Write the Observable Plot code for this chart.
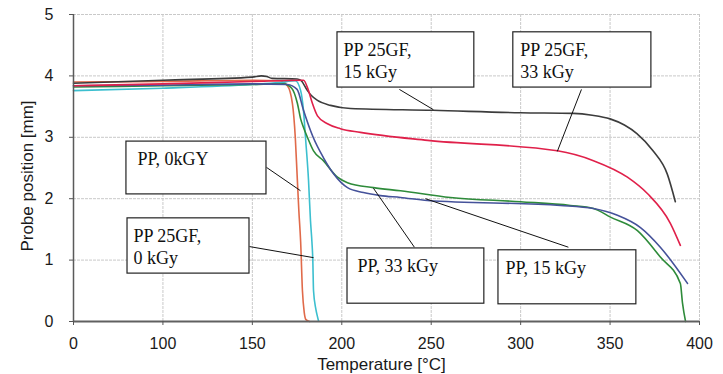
<!DOCTYPE html>
<html>
<head>
<meta charset="utf-8">
<script src="https://cdn.jsdelivr.net/npm/d3@7"></script>
<script src="https://cdn.jsdelivr.net/npm/@observablehq/plot@0.6"></script>
<style>
  html, body { margin: 0; padding: 0; background: #fff; }
  #chart { width: 723px; height: 374px; }
</style>
</head>
<body>
<div id="chart"></div>
<script>
// Tick positions (the reference axis labels the first gridline "0")
const xTicks = [50, 100, 150, 200, 250, 300, 350, 400];
const xTickLabels = ["0", "100", "150", "200", "250", "300", "350", "400"];
const yTicks = [0, 1, 2, 3, 4, 5];

// Series: [temperature, probe position]
const pp0 = [[50,3.90],[100,3.91],[150,3.93],[165,3.92],[169.6,3.84],[172.4,3.55],[174,3.0],[175,2.4],[176,1.8],[177,1.3],[178,0.5],[179,0.15],[180,0.03],[182,0]];
const pp25gf0 = [[50,3.76],[100,3.80],[150,3.86],[165,3.89],[174,3.92],[177,3.76],[178.6,3.43],[179.7,3.0],[181.4,2.3],[182.5,1.64],[183.3,1.3],[183.8,1.0],[184.2,0.5],[185.5,0.2],[186.4,0.08],[187,0.01]];
const pp33 = [[50,3.82],[100,3.84],[150,3.86],[167.4,3.87],[172,3.80],[175.2,3.55],[177,3.3],[178.6,3.16],[180.8,3.0],[184.2,2.78],[189.7,2.62],[197.6,2.35],[203.2,2.26],[217.7,2.18],[232.8,2.13],[260.7,2.02],[300,1.95],[327.8,1.89],[340.7,1.84],[350.2,1.70],[365.3,1.48],[378.1,1.05],[389.3,0.62],[390.5,0.3],[392.2,0]];
const pp15 = [[50,3.84],[100,3.85],[150,3.87],[169.6,3.86],[175,3.78],[178.6,3.44],[182.5,3.11],[184,3.0],[189.7,2.67],[195.3,2.41],[203.2,2.18],[212.1,2.10],[221.6,2.05],[232.8,2.02],[247.9,1.97],[322.2,1.89],[340.7,1.84],[354.1,1.73],[367,1.53],[378.1,1.21],[393.3,0.62]];
const pp25gf15 = [[50,3.88],[100,3.93],[150,3.98],[155,4.0],[158,3.99],[161,3.96],[175,3.95],[177,3.93],[180.8,3.76],[183,3.68],[186.4,3.60],[193.7,3.52],[204.9,3.47],[251,3.44],[300,3.40],[329.5,3.39],[340,3.36],[350,3.30],[358,3.20],[365,3.06],[374,2.78],[382,2.4],[386.5,1.95]];
const pp25gf33 = [[50,3.84],[100,3.87],[150,3.91],[178.6,3.93],[181.4,3.76],[183.6,3.55],[186.4,3.35],[192,3.22],[199.2,3.14],[210.4,3.08],[248,2.95],[320.5,2.78],[340.7,2.62],[359.7,2.35],[371,2.08],[383.7,1.6],[389.3,1.24]];

const seriesNames = ["PP, 0kGY", "PP 25GF, 0 kGy", "PP, 33 kGy", "PP, 15 kGy", "PP 25GF, 15 kGy", "PP 25GF, 33 kGy"];
const seriesData = [pp0, pp25gf0, pp33, pp15, pp25gf15, pp25gf33];
const seriesColors = ["#e06a4a", "#3cbfcf", "#2e8b3a", "#45529a", "#3c3c3c", "#e0204a"];

// Annotation labels (box corners and leader lines in data units)
const boxLabels = ["PP 25GF,\n15 kGy", "PP 25GF,\n33 kGy", "PP, 0kGY", "PP 25GF,\n0 kGy", "PP, 33 kGy", "PP, 15 kGy"];
const boxX1 = [197.6, 295.9, 79.6, 80.2, 203.2, 287.6];
const boxX2 = [274.1, 373.1, 157.9, 148.4, 279.7, 364.7];
const boxY1 = [3.81, 3.81, 2.07, 0.78, 0.29, 0.28];
const boxY2 = [4.71, 4.71, 2.93, 1.68, 1.19, 1.16];
const textX = [201.0, 299.8, 85.8, 83.5, 208.8, 291.5];
const leadX1 = [232.2, 334.0, 157.9, 148.4, 240.6, 326.7];
const leadY1 = [3.78, 3.78, 2.51, 1.22, 1.21, 1.21];
const leadX2 = [251.2, 320.5, 176.9, 184.2, 217.7, 246.8];
const leadY2 = [3.45, 2.77, 2.13, 1.04, 2.17, 2.00];

const rows = seriesData.flatMap((s, i) => s.map(([t, v]) => ({t, v, name: seriesNames[i]})));
const boxes = boxLabels.map((label, i) => ({label, x1: boxX1[i], x2: boxX2[i], y1: boxY1[i], y2: boxY2[i], tx: textX[i]}));
const leaders = leadX1.map((x1, i) => ({x1, y1: leadY1[i], x2: leadX2[i], y2: leadY2[i]}));

const chart = Plot.plot({
  width: 723,
  height: 374,
  marginLeft: 73,
  marginRight: 24,
  marginTop: 14,
  marginBottom: 53,
  style: {fontFamily: "Liberation Sans, Arial, sans-serif", fontSize: "16px", color: "#1a1a1a", background: "#fff"},
  x: {domain: [50, 400], label: null},
  y: {domain: [0, 5], label: null},
  color: {domain: seriesNames, range: seriesColors},
  marks: [
    Plot.gridX(xTicks, {stroke: "#c9c9c9", strokeOpacity: 1, strokeWidth: 1, strokeDasharray: "3,1"}),
    Plot.gridY([1, 2, 3, 4, 5], {stroke: "#c9c9c9", strokeOpacity: 1, strokeWidth: 1, strokeDasharray: "3,1"}),
    Plot.line(rows, {x: "t", y: "v", z: "name", stroke: "name", strokeWidth: 1.6, curve: "monotone-x"}),
    Plot.ruleX([50], {stroke: "#5a5a5a", strokeWidth: 1.5}),
    Plot.ruleY([0], {stroke: "#606060", strokeWidth: 2}),
    Plot.axisX(xTicks, {tickFormat: (d, i) => xTickLabels[i], tickSize: 4, tickPadding: 12, stroke: "#555", fontSize: 16}),
    Plot.axisY(yTicks, {tickFormat: d => String(d), tickSize: 4, tickPadding: 16, stroke: "#555", fontSize: 16}),
    Plot.link(leaders, {x1: "x1", y1: "y1", x2: "x2", y2: "y2", stroke: "#111", strokeWidth: 1}),
    Plot.rect(boxes, {x1: "x1", x2: "x2", y1: "y1", y2: "y2", fill: "#fff", stroke: "#222", strokeWidth: 1.2}),
    Plot.text(boxes, {x: "tx", y: "y2", text: "label", textAnchor: "start", lineAnchor: "top", dy: 8, lineHeight: 1.22, fontFamily: "Liberation Serif, Times New Roman, serif", fontSize: 18, fill: "#111"}),
    Plot.text(["Temperature [°C]"], {frameAnchor: "bottom", textAnchor: "middle", dx: -5, dy: 43, lineAnchor: "middle", fontSize: 17, fill: "#1a1a1a"}),
    Plot.text(["Probe position [mm]"], {frameAnchor: "left", textAnchor: "middle", rotate: -90, dx: -45.5, dy: 8, lineAnchor: "middle", fontSize: 17, fill: "#1a1a1a"})
  ]
});
document.getElementById("chart").appendChild(chart);
</script>
</body>
</html>
